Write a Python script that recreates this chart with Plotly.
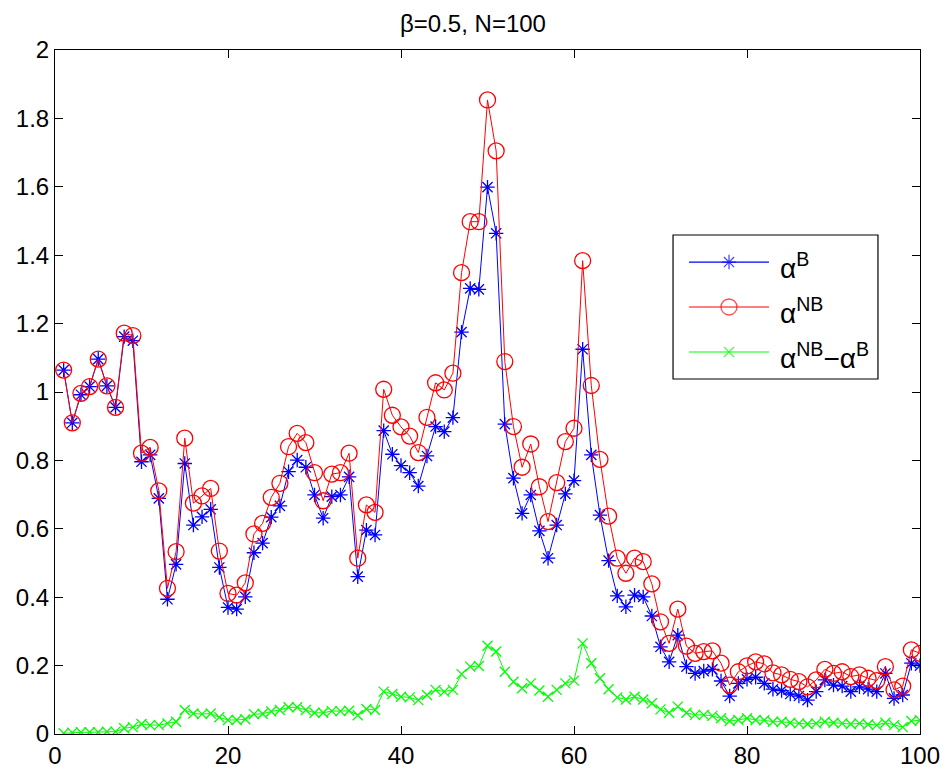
import plotly.graph_objects as go

x_idx = list(range(1, 101))

alpha_B = [1.064, 0.910, 0.992, 1.016, 1.096, 1.018, 0.955, 1.162, 1.150, 0.796,
           0.816, 0.689, 0.394, 0.496, 0.791, 0.611, 0.635, 0.657, 0.487, 0.370,
           0.365, 0.401, 0.530, 0.558, 0.634, 0.667, 0.767, 0.801, 0.780, 0.699,
           0.631, 0.694, 0.699, 0.752, 0.460, 0.596, 0.582, 0.887, 0.818, 0.785,
           0.764, 0.725, 0.813, 0.899, 0.884, 0.925, 1.175, 1.303, 1.300, 1.599,
           1.464, 0.906, 0.748, 0.645, 0.699, 0.594, 0.514, 0.611, 0.702, 0.741,
           1.125, 0.816, 0.640, 0.507, 0.404, 0.372, 0.406, 0.401, 0.345, 0.255,
           0.211, 0.289, 0.197, 0.177, 0.184, 0.189, 0.155, 0.111, 0.148, 0.160,
           0.166, 0.148, 0.131, 0.127, 0.117, 0.111, 0.099, 0.124, 0.158, 0.143,
           0.140, 0.124, 0.138, 0.131, 0.124, 0.177, 0.104, 0.114, 0.207, 0.200]

alpha_NB = [1.064, 0.910, 0.996, 1.016, 1.096, 1.018, 0.955, 1.172, 1.165, 0.821,
            0.838, 0.711, 0.426, 0.533, 0.865, 0.675, 0.696, 0.718, 0.535, 0.411,
            0.406, 0.442, 0.585, 0.616, 0.692, 0.733, 0.840, 0.879, 0.852, 0.764,
            0.682, 0.760, 0.764, 0.821, 0.514, 0.670, 0.648, 1.008, 0.932, 0.898,
            0.871, 0.823, 0.926, 1.027, 1.006, 1.055, 1.349, 1.498, 1.498, 1.854,
            1.705, 1.089, 0.899, 0.780, 0.848, 0.723, 0.621, 0.735, 0.855, 0.894,
            1.384, 1.019, 0.803, 0.637, 0.514, 0.470, 0.514, 0.504, 0.439, 0.328,
            0.265, 0.365, 0.257, 0.236, 0.241, 0.243, 0.207, 0.143, 0.182, 0.199,
            0.211, 0.205, 0.179, 0.173, 0.160, 0.153, 0.138, 0.158, 0.189, 0.177,
            0.182, 0.168, 0.173, 0.163, 0.156, 0.197, 0.129, 0.140, 0.246, 0.236]

alpha_diff = [0.002, 0.004, 0.005, 0.005, 0.005, 0.007, 0.007, 0.017, 0.020, 0.029,
              0.026, 0.026, 0.031, 0.036, 0.070, 0.060, 0.058, 0.060, 0.049, 0.041,
              0.041, 0.043, 0.058, 0.059, 0.066, 0.070, 0.078, 0.078, 0.070, 0.062,
              0.062, 0.067, 0.067, 0.068, 0.055, 0.073, 0.070, 0.124, 0.117, 0.109,
              0.107, 0.099, 0.114, 0.129, 0.124, 0.129, 0.175, 0.197, 0.199, 0.258,
              0.241, 0.182, 0.153, 0.134, 0.148, 0.127, 0.109, 0.129, 0.148, 0.156,
              0.265, 0.207, 0.163, 0.131, 0.107, 0.101, 0.109, 0.101, 0.090, 0.072,
              0.062, 0.080, 0.062, 0.056, 0.056, 0.053, 0.046, 0.038, 0.041, 0.046,
              0.041, 0.040, 0.036, 0.036, 0.033, 0.031, 0.029, 0.031, 0.036, 0.033,
              0.031, 0.029, 0.031, 0.028, 0.026, 0.033, 0.026, 0.020, 0.038, 0.040]

series_names = ["α<sup>B</sup>", "α<sup>NB</sup>", "α<sup>NB</sup>−α<sup>B</sup>"]
series_colors = ["#0000ff", "#ff0000", "#00ff00"]
series_symbols = ["asterisk-open", "circle-open", "x-thin-open"]
series_sizes = [12, 16, 10]
series_values = [alpha_B, alpha_NB, alpha_diff]

x_ticks = [0, 20, 40, 60, 80, 100]
y_ticks = [0, 0.2, 0.4, 0.6, 0.8, 1, 1.2, 1.4, 1.6, 1.8, 2]
y_tick_labels = ["0", "0.2", "0.4", "0.6", "0.8", "1", "1.2", "1.4", "1.6", "1.8", "2"]

FONT = "Liberation Sans, Arial, Helvetica, sans-serif"

fig = go.Figure()
for name, col, sym, sz, vals in zip(series_names, series_colors, series_symbols,
                                     series_sizes, series_values):
    fig.add_trace(go.Scatter(
        x=x_idx, y=vals, mode="lines+markers", name=name, showlegend=False,
        line=dict(color=col, width=1),
        marker=dict(symbol=sym, size=sz, color=col, line=dict(color=col, width=1.3))))

# Legend drawn in an overlay [0,1] frame (MATLAB-style box)
leg_x0, leg_x1 = 0.7145, 0.9514
leg_y0, leg_y1 = 0.519, 0.7295
row_y = [0.690, 0.6243, 0.5585]
line_x0, line_x1, mark_x, text_x = 0.733, 0.8254, 0.7792, 0.8358

fig.add_shape(type="rect", xref="paper", yref="paper", x0=leg_x0, x1=leg_x1,
              y0=leg_y0, y1=leg_y1, line=dict(color="black", width=1.2),
              fillcolor="white", layer="below")
for name, col, sym, sz, ry in zip(series_names, series_colors, series_symbols,
                                  series_sizes, row_y):
    fig.add_trace(go.Scatter(
        x=[line_x0, mark_x, line_x1], y=[ry, ry, ry], xaxis="x2", yaxis="y2",
        mode="lines+markers", showlegend=False, hoverinfo="skip",
        line=dict(color=col, width=1.2),
        marker=dict(symbol=sym, size=[0, sz, 0], color=col,
                    line=dict(color=col, width=1.3))))
    fig.add_annotation(x=text_x, y=ry - 0.006, xref="paper", yref="paper",
                       xanchor="left", yanchor="middle", text=name, showarrow=False,
                       font=dict(family=FONT, size=28, color="black"))

axis_common = dict(
    showgrid=False, zeroline=False, showline=True, linecolor="black", linewidth=1,
    mirror="allticks", ticks="inside", ticklen=8, tickcolor="black", tickwidth=1,
    automargin=False,
    tickfont=dict(family=FONT, size=24, color="black"))

fig.update_layout(
    width=946, height=770,
    margin=dict(l=55, r=26, t=50, b=36),
    paper_bgcolor="white", plot_bgcolor="white",
    font=dict(family=FONT, color="black"),
    title=dict(text="β=0.5, N=100", x=0.5, xanchor="center", y=0.970, yanchor="middle",
               font=dict(family=FONT, size=24, color="black")),
    xaxis=dict(range=[0, 100], tickvals=x_ticks, **axis_common),
    yaxis=dict(range=[0, 2], tickvals=y_ticks, ticktext=y_tick_labels, **axis_common),
    xaxis2=dict(range=[0, 1], overlaying="x", anchor="y2", visible=False, fixedrange=True),
    yaxis2=dict(range=[0, 1], overlaying="y", anchor="x2", visible=False, fixedrange=True),
    showlegend=False,
)

fig.write_html("out.html")
